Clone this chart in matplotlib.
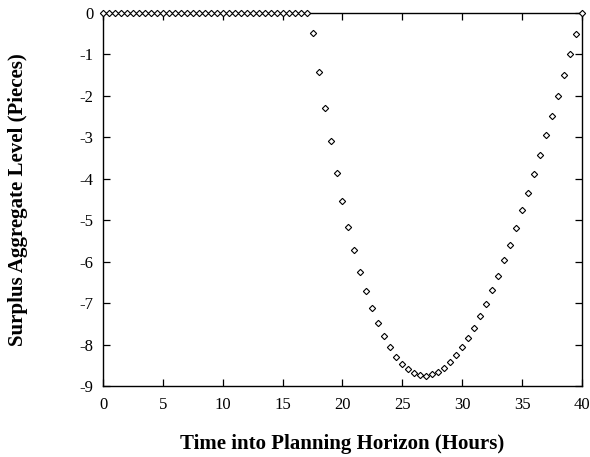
import matplotlib
matplotlib.use("Agg")
import matplotlib.pyplot as plt

plt.rcParams["font.family"] = ["Liberation Serif", "DejaVu Serif"]
plt.rcParams["axes.unicode_minus"] = False

# hours into the planning horizon, every half hour
hours = [
    0.0, 0.5, 1.0, 1.5, 2.0, 2.5, 3.0, 3.5, 4.0, 4.5,
    5.0, 5.5, 6.0, 6.5, 7.0, 7.5, 8.0, 8.5, 9.0, 9.5,
    10.0, 10.5, 11.0, 11.5, 12.0, 12.5, 13.0, 13.5, 14.0, 14.5,
    15.0, 15.5, 16.0, 16.5, 17.0, 17.5, 18.0, 18.5, 19.0, 19.5,
    20.0, 20.5, 21.0, 21.5, 22.0, 22.5, 23.0, 23.5, 24.0, 24.5,
    25.0, 25.5, 26.0, 26.5, 27.0, 27.5, 28.0, 28.5, 29.0, 29.5,
    30.0, 30.5, 31.0, 31.5, 32.0, 32.5, 33.0, 33.5, 34.0, 34.5,
    35.0, 35.5, 36.0, 36.5, 37.0, 37.5, 38.0, 38.5, 39.0, 39.5,
    40.0,
]

# surplus aggregate level (pieces)
surplus = [
    0, 0, 0, 0, 0, 0, 0, 0, 0, 0,
    0, 0, 0, 0, 0, 0, 0, 0, 0, 0,
    0, 0, 0, 0, 0, 0, 0, 0, 0, 0,
    0, 0, 0, 0, 0, -0.48, -1.43, -2.29, -3.10, -3.85,
    -4.53, -5.16, -5.73, -6.25, -6.71, -7.12, -7.49, -7.79, -8.07, -8.29,
    -8.46, -8.59, -8.68, -8.74, -8.75, -8.72, -8.66, -8.56, -8.42, -8.26,
    -8.07, -7.84, -7.60, -7.30, -7.02, -6.69, -6.35, -5.97, -5.59, -5.19,
    -4.76, -4.34, -3.89, -3.43, -2.95, -2.48, -2.00, -1.50, -1.00, -0.51,
    0,
]

x_ticks = [0, 5, 10, 15, 20, 25, 30, 35, 40]
y_ticks = [0, -1, -2, -3, -4, -5, -6, -7, -8, -9]

fig = plt.figure(figsize=(5.9, 4.57), dpi=100)
ax = fig.add_axes([0.1746, 0.1554, 0.8118, 0.8162])

ax.plot(hours, surplus, linestyle="none", marker="D", markersize=3.2,
        markerfacecolor="white", markeredgecolor="black",
        markeredgewidth=0.8, clip_on=False, zorder=3)

ax.set_xlim(0, 40)
ax.set_ylim(-9, 0)
ax.set_xticks(x_ticks)
ax.set_yticks(y_ticks)
ax.tick_params(direction="in", length=5, width=0.9, top=True, right=True,
               labelsize=12, colors="black")
ax.tick_params(axis="x", pad=8)
ax.tick_params(axis="y", pad=7)
for sp in ax.spines.values():
    sp.set_linewidth(1.0)

ax.set_xlabel("Time into Planning Horizon (Hours)", fontsize=15,
              fontweight="bold")
ax.set_ylabel("Surplus Aggregate Level (Pieces)", fontsize=15,
              fontweight="bold")
# place axis labels where they sit in the original
ax.xaxis.set_label_coords(0.5, -0.129)
ax.yaxis.set_label_coords(-0.157, 0.5)

fig.savefig("out.png", dpi=100)
